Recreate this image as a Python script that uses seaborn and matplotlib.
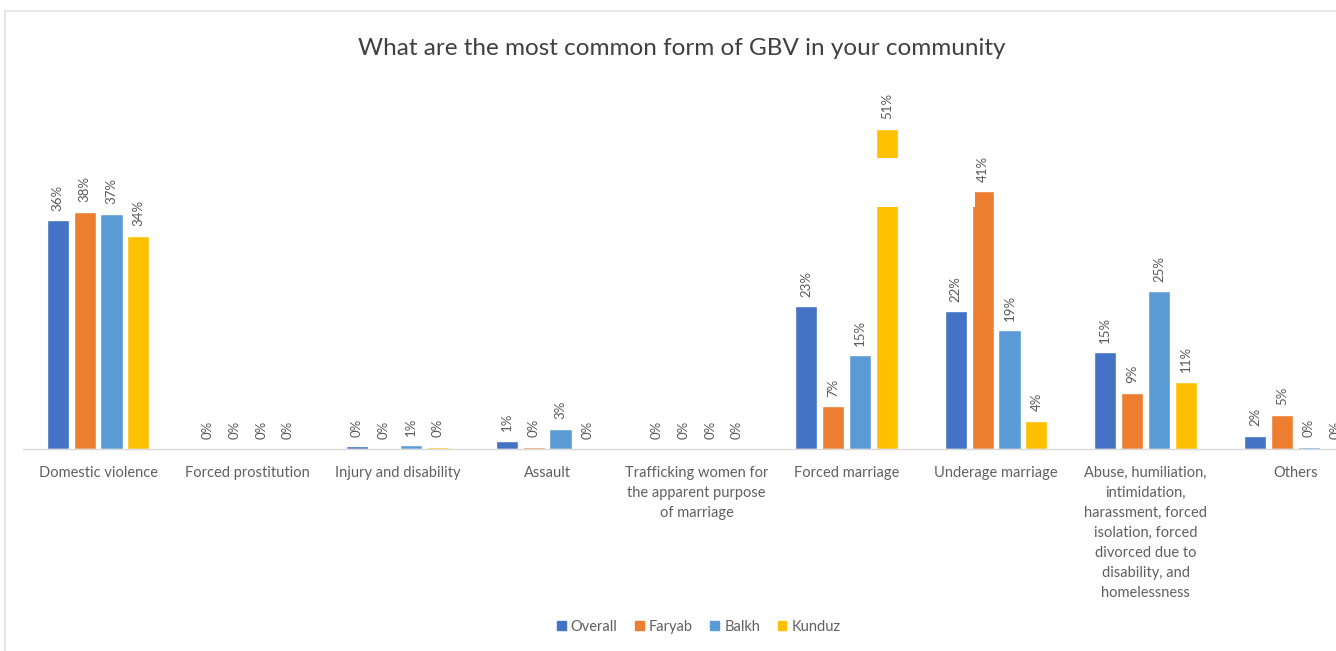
import matplotlib
matplotlib.use("Agg")
import matplotlib.pyplot as plt
from matplotlib.patches import Rectangle
import pandas as pd
import seaborn as sns

categories = [
    "Domestic violence",
    "Forced prostitution",
    "Injury and disability",
    "Assault",
    "Trafficking women for\nthe apparent purpose\nof marriage",
    "Forced marriage",
    "Underage marriage",
    "Abuse, humiliation,\nintimidation,\nharassment, forced\nisolation, forced\ndivorced due to\ndisability, and\nhomelessness",
    "Others",
]
regions = ["Overall", "Faryab", "Balkh", "Kunduz"]

overall = [36.4, 0.0, 0.4, 1.3, 0.0, 22.7, 21.9, 15.4, 2.1]
faryab = [37.7, 0.0, 0.0, 0.3, 0.0, 6.8, 41.0, 8.9, 5.4]
balkh = [37.4, 0.0, 0.6, 3.2, 0.0, 14.9, 18.9, 25.1, 0.3]
kunduz = [33.9, 0.0, 0.3, 0.0, 0.0, 51.0, 4.5, 10.7, 0.0]

colors = ["#4472C4", "#ED7D31", "#5B9BD5", "#FFC000"]

df = pd.DataFrame({
    "form": categories * 4,
    "region": [r for r in regions for _ in categories],
    "share": overall + faryab + balkh + kunduz,
})

sns.set_theme(style="white")
label_font = ["Liberation Sans Narrow", "Lato", "DejaVu Sans"]
plt.rcParams["font.family"] = label_font

W, H = 1336, 651
fig = plt.figure(figsize=(W / 100, H / 100), dpi=100)

# plot area runs slightly past the right edge of the canvas
ax = fig.add_axes([23.2 / W, 0.3103, 1347 / W, 0.579])
sns.barplot(
    data=df, x="form", y="share", hue="region", order=categories,
    hue_order=regions, palette=colors, width=0.72, gap=0.18,
    errorbar=None, saturation=1, ax=ax, legend=False,
)

for cont in ax.containers:
    ax.bar_label(cont, fmt="{:.0f}%", rotation=90, padding=7,
                 fontsize=9.5, color="#595959")

# white text box overlapping the plot area
ax.add_patch(Rectangle((5.1, 38.5), 0.76, 7.8, facecolor="white",
                       edgecolor="none", zorder=5))

ax.set_ylim(0, 60)
ax.set_xlim(-0.5, len(categories) - 0.5)
ax.set_xlabel("")
ax.set_ylabel("")
ax.set_yticks([])
ax.tick_params(axis="x", length=0, pad=12, labelsize=10.5, colors="#606060")
for t in ax.get_xticklabels():
    t.set_linespacing(1.55)
    t.set_verticalalignment("top")
for side in ["top", "right", "left"]:
    ax.spines[side].set_visible(False)
ax.spines["bottom"].set_color("#d9d9d9")
ax.spines["bottom"].set_linewidth(1)

fig.text(0.51, 0.926, "What are the most common form of GBV in your community",
         ha="center", va="center", fontsize=17.5, color="#404040",
         family=["Lato", "DejaVu Sans"])

handles = [Rectangle((0, 0), 1, 1, color=c) for c in colors]
fig.legend(handles, regions, loc="center", bbox_to_anchor=(0.523, 0.037),
           ncol=4, frameon=False, fontsize=10.5, handlelength=0.6,
           handleheight=0.6, handletextpad=0.35, columnspacing=1.2,
           labelcolor="#606060")

# light outline framing the chart
fig.patches.append(Rectangle((5 / W, -0.1), 1.2, 1 - 11 / H + 0.1,
                             transform=fig.transFigure, fill=False,
                             edgecolor="#e3e3e3", linewidth=1.2))

fig.savefig("out.png", dpi=100)
